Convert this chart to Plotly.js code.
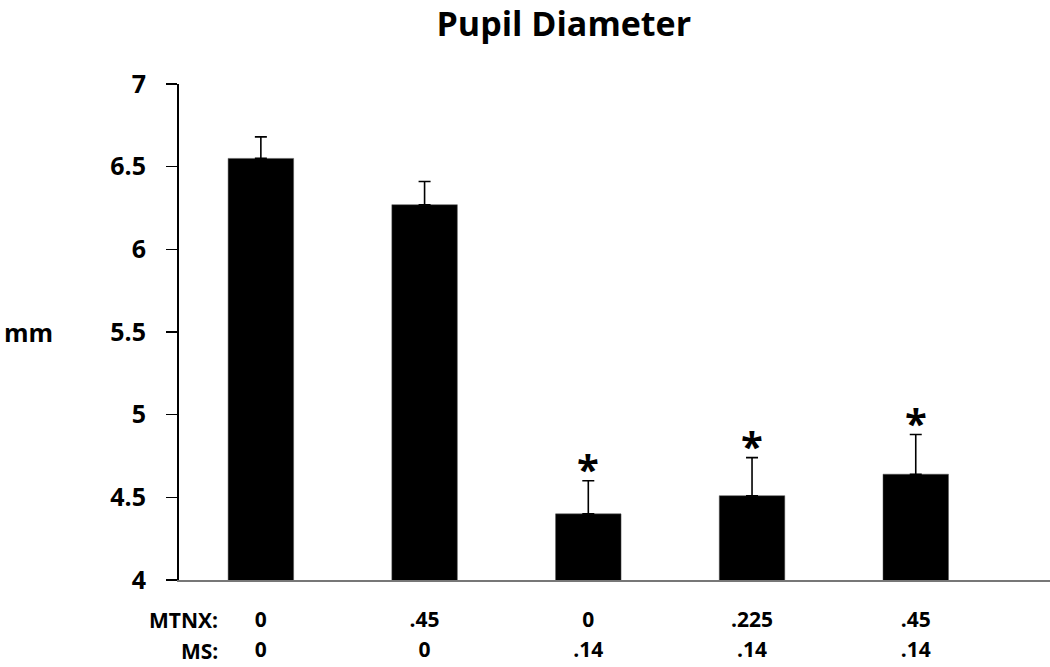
<!DOCTYPE html>
<html>
<head>
<meta charset="utf-8">
<script src="https://cdn.plot.ly/plotly-3.0.1.min.js"></script>
<style>html,body{margin:0;padding:0;background:#fff;}#chart{width:1050px;height:667px;}</style>
</head>
<body>
<div id="chart"></div>
<script>
const mtnx = ['0', '.45', '0', '.225', '.45'];
const ms = ['0', '0', '.14', '.14', '.14'];
const means = [6.55, 6.27, 4.40, 4.51, 4.64];
const sem = [0.13, 0.14, 0.20, 0.23, 0.24];
const significant = [false, false, true, true, true];
const yTicks = [4, 4.5, 5, 5.5, 6, 6.5, 7];

const FONT = '"Open Sans", Lato, sans-serif';
const idx = means.map((_, i) => i);

const trace = {
  type: 'bar',
  x: idx,
  y: means,
  width: 0.4,
  marker: {color: '#000000', line: {color: '#555', width: 0.5}},
  error_y: {type: 'data', symmetric: false, array: sem, arrayminus: sem.map(() => 0),
            color: '#000', thickness: 1.6, width: 6},
  hoverinfo: 'none'
};

const rowFont = {family: FONT, size: 21, color: '#000', weight: 'bold'};

const annotations = [];
idx.forEach(i => {
  if (significant[i]) {
    annotations.push({x: i, y: means[i] + sem[i], xref: 'x', yref: 'y', text: '*',
      showarrow: false, yanchor: 'bottom', yshift: -17,
      font: {family: FONT, size: 40, color: '#000', weight: 'bold'}});
  }
});
annotations.push({x: 220, y: 620, xref: 'paper', yref: 'paper', text: 'MTNX:', showarrow: false,
  xanchor: 'right', yanchor: 'middle', font: rowFont});
annotations.push({x: 220, y: 651, xref: 'paper', yref: 'paper', text: 'MS:', showarrow: false,
  xanchor: 'right', yanchor: 'middle', font: rowFont});
annotations.push({x: 28, y: 332, xref: 'paper', yref: 'paper', text: 'mm', showarrow: false,
  xanchor: 'center', yanchor: 'middle', font: {family: FONT, size: 25, color: '#000', weight: 'bold'}});

// convert pixel positions for paper annotations
const L = 179, R = 0, T = 84, B = 87, W = 1050, H = 667;
const pw = W - L - R, ph = H - T - B;
annotations.forEach(a => {
  if (a.xref === 'paper') {
    a.x = (a.x - L) / pw;
    a.y = 1 - (a.y - T) / ph;
  }
});

const tf = {family: FONT, size: 25, color: '#000', weight: 'bold'};

const layout = {
  width: W, height: H,
  margin: {l: L, r: R, t: T, b: B, pad: 0},
  paper_bgcolor: '#fff', plot_bgcolor: '#fff',
  showlegend: false,
  title: {text: 'Pupil Diameter', x: 0.537, xanchor: 'center', y: 0.964, yanchor: 'middle',
          font: {family: FONT, size: 34, color: '#000', weight: 'bold'}},
  xaxis: {range: [-0.5, 4.82], tickmode: 'array', tickvals: idx, ticktext: mtnx,
          showline: true, linecolor: '#777', linewidth: 2, ticks: '', showgrid: false, zeroline: false,
          ticklabelstandoff: 20, tickfont: rowFont, fixedrange: true},
  xaxis2: {range: [-0.5, 4.82], overlaying: 'x', side: 'bottom', anchor: 'y', tickmode: 'array', tickvals: idx, ticktext: ms,
          showline: false, ticks: '', showgrid: false, zeroline: false,
          ticklabelstandoff: 55, tickfont: rowFont, fixedrange: true},
  yaxis: {range: [4, 7], tickmode: 'array', tickvals: yTicks, ticktext: yTicks.map(String),
          showline: true, linecolor: '#000', linewidth: 2, ticks: 'outside', ticklen: 11, tickwidth: 1.5, tickcolor: '#000',
          showgrid: false, zeroline: false, ticklabelstandoff: 15,
          tickfont: tf, fixedrange: true},
  annotations: annotations
};

const dummy = {type: 'scatter', x: [0], y: [4], xaxis: 'x2', yaxis: 'y', mode: 'markers',
  marker: {opacity: 0}, hoverinfo: 'none', showlegend: false};

Plotly.newPlot('chart', [trace, dummy], layout, {staticPlot: true});
</script>
</body>
</html>
